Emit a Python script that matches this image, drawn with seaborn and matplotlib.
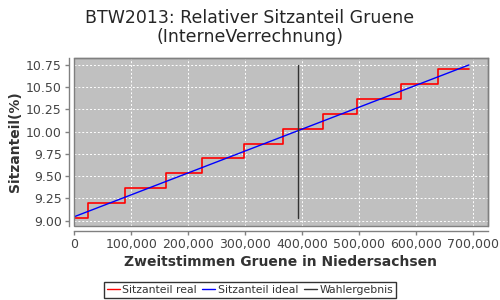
import matplotlib
matplotlib.use("Agg")
import matplotlib.pyplot as plt
import seaborn as sns
import pandas as pd
from matplotlib.ticker import FuncFormatter, FixedLocator
from matplotlib.lines import Line2D

sns.set_style("white")
plt.rcParams['font.family'] = ['DejaVu Sans']

# Data
real_x = [0, 23500, 88400, 160300, 224600, 298300, 366700, 436300, 496600, 573200, 637500, 692000]
real_y = [9.027, 9.195, 9.364, 9.532, 9.701, 9.858, 10.027, 10.196, 10.364, 10.533, 10.701, 10.701]
ideal_x = [0, 692000]
ideal_y = [9.045, 10.75]
vote_x = [393000, 393000]
vote_y = [9.027, 10.75]
x_ticks = [0, 100000, 200000, 300000, 400000, 500000, 600000, 700000]
y_ticks = [9.00, 9.25, 9.50, 9.75, 10.00, 10.25, 10.50, 10.75]

fig = plt.figure(figsize=(5, 3), dpi=100)
ax = fig.add_axes([0.1486, 0.2477, 0.8268, 0.558])
ax.set_facecolor('#C0C0C0')

sns.lineplot(x=real_x, y=real_y, ax=ax, color='red', drawstyle='steps-post',
             estimator=None, sort=False, linewidth=1.2)
sns.lineplot(x=ideal_x, y=ideal_y, ax=ax, color='blue', estimator=None, sort=False, linewidth=1.0)
sns.lineplot(x=vote_x, y=vote_y, ax=ax, color='#333333', estimator=None, sort=False, linewidth=1.0)

ax.set_xlim(0, 725000)
ax.set_ylim(8.944, 10.825)
ax.xaxis.set_major_locator(FixedLocator(x_ticks))
ax.yaxis.set_major_locator(FixedLocator(y_ticks))
ax.xaxis.set_major_formatter(FuncFormatter(lambda v, p: f"{int(v):,}"))
ax.yaxis.set_major_formatter(FuncFormatter(lambda v, p: f"{v:.2f}"))
ax.grid(True, color='white', linestyle=(0, (2, 2)), linewidth=0.7)
ax.set_axisbelow(True)

for s in ['top', 'right']:
    ax.spines[s].set_color('#808080')
    ax.spines[s].set_linewidth(1)
for s in ['left', 'bottom']:
    ax.spines[s].set_position(('outward', 4))
    ax.spines[s].set_color('#808080')
    ax.spines[s].set_linewidth(1)
ax.add_patch(plt.Rectangle((0, 0), 1, 1, transform=ax.transAxes, fill=False,
                           edgecolor='#808080', linewidth=1, clip_on=False, zorder=5))

ax.tick_params(axis='both', direction='out', length=3, width=1, color='#808080',
               labelsize=9, labelcolor='#444444', pad=2, bottom=True, left=True)

ax.set_xlabel('Zweitstimmen Gruene in Niedersachsen', fontsize=10, fontweight='bold', color='#333333', labelpad=3)
ax.set_ylabel('Sitzanteil(%)', fontsize=10, fontweight='bold', color='#333333', labelpad=3)
fig.suptitle('BTW2013: Relativer Sitzanteil Gruene\n(InterneVerrechnung)', fontsize=12.5, y=0.97, x=0.5, linespacing=1.05)

handles = [Line2D([], [], color='red', lw=1), Line2D([], [], color='blue', lw=1), Line2D([], [], color='#333333', lw=1)]
leg = fig.legend(handles, ['Sitzanteil real', 'Sitzanteil ideal', 'Wahlergebnis'], loc='lower center',
                 bbox_to_anchor=(0.5, 0.0), ncol=3, fontsize=7.8, frameon=True, fancybox=False,
                 edgecolor='black', handlelength=1.2, handletextpad=0.25, columnspacing=0.5,
                 borderpad=0.25, borderaxespad=0.2)
leg.get_frame().set_linewidth(1)
for t in leg.get_texts():
    t.set_color('#333333')

fig.savefig('out.png', dpi=100)
